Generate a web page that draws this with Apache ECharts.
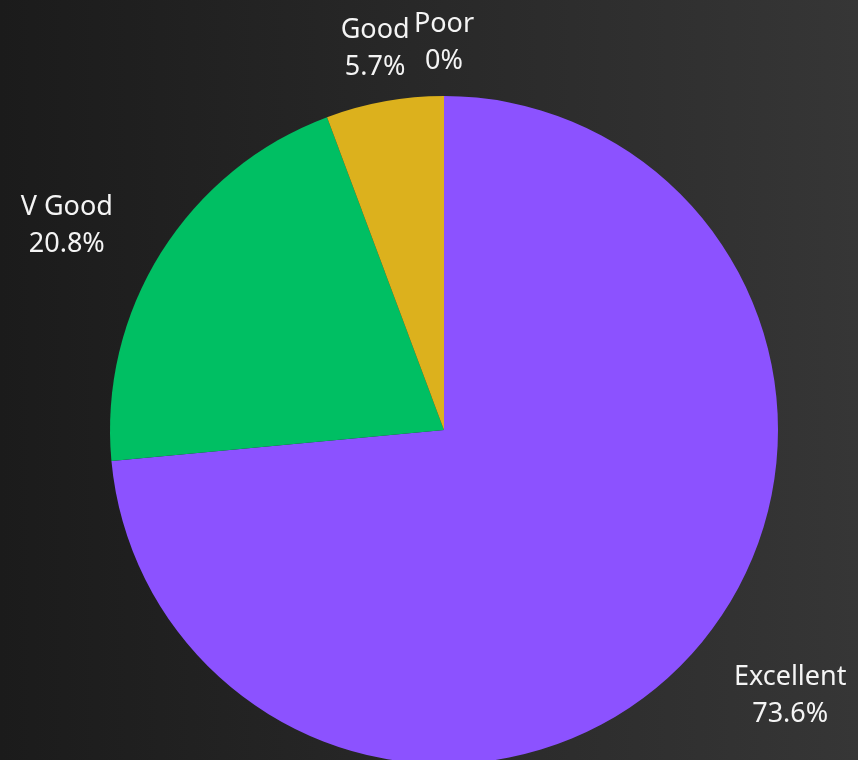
<!DOCTYPE html>
<html>
<head>
<meta charset="utf-8">
<script src="https://cdn.jsdelivr.net/npm/echarts@6/dist/echarts.min.js"></script>
<style>
  html, body { margin: 0; padding: 0; background: #262626; }
  #chart { width: 858px; height: 760px; }
</style>
</head>
<body>
<div id="chart"></div>
<script>
// Rating shares (percent)
const categories = ['Excellent', 'V Good', 'Good', 'Poor'];
const shares = [73.6, 20.8, 5.7, 0];
const sliceColors = ['#8C52FF', '#00BF63', '#DCB11D', '#E05A5A'];

// Labels near the top sit centred on their spoke; side labels hang off it
const centredOnSpoke = ['Good', 'Poor'];
const spokeLength = { 'Excellent': 61, 'V Good': 51, 'Good': 53, 'Poor': 53 };
const tailLength = { 'Excellent': 0, 'V Good': 5, 'Good': 0, 'Poor': 0 };
const tailGap = { 'Excellent': -2, 'V Good': 0, 'Good': 0, 'Poor': 0 };

const chart = echarts.init(document.getElementById('chart'), null, { renderer: 'canvas' });

const seriesData = categories.map((name, i) => ({
  name,
  value: shares[i],
  itemStyle: { color: sliceColors[i] },
  labelLine: { show: false, length: spokeLength[name], length2: tailLength[name] },
  label: { distanceToLabelLine: tailGap[name] }
}));

chart.setOption({
  backgroundColor: {
    type: 'linear', x: 0, y: 0, x2: 1, y2: 0,
    colorStops: [
      { offset: 0, color: '#1b1b1b' },
      { offset: 1, color: '#363636' }
    ]
  },
  animation: false,
  series: [{
    type: 'pie',
    center: [444, 430],
    radius: 334,
    startAngle: 90,
    clockwise: true,
    avoidLabelOverlap: false,
    minShowLabelAngle: 0,
    data: seriesData,
    label: {
      show: true,
      position: 'outside',
      formatter: p => p.name + '\n' + p.value + '%',
      color: '#f4f4f4',
      fontFamily: '"Noto Sans", sans-serif',
      fontSize: 27,
      lineHeight: 37
    },
    labelLine: { show: false },
    labelLayout: p => {
      const name = categories[p.dataIndex];
      if (centredOnSpoke.includes(name)) {
        const anchor = p.align === 'right' ? p.labelRect.x + p.labelRect.width : p.labelRect.x;
        return { x: anchor, align: 'center' };
      }
      return { x: p.labelRect.x + p.labelRect.width / 2, align: 'center' };
    },
    emphasis: { disabled: true }
  }]
});
</script>
</body>
</html>
